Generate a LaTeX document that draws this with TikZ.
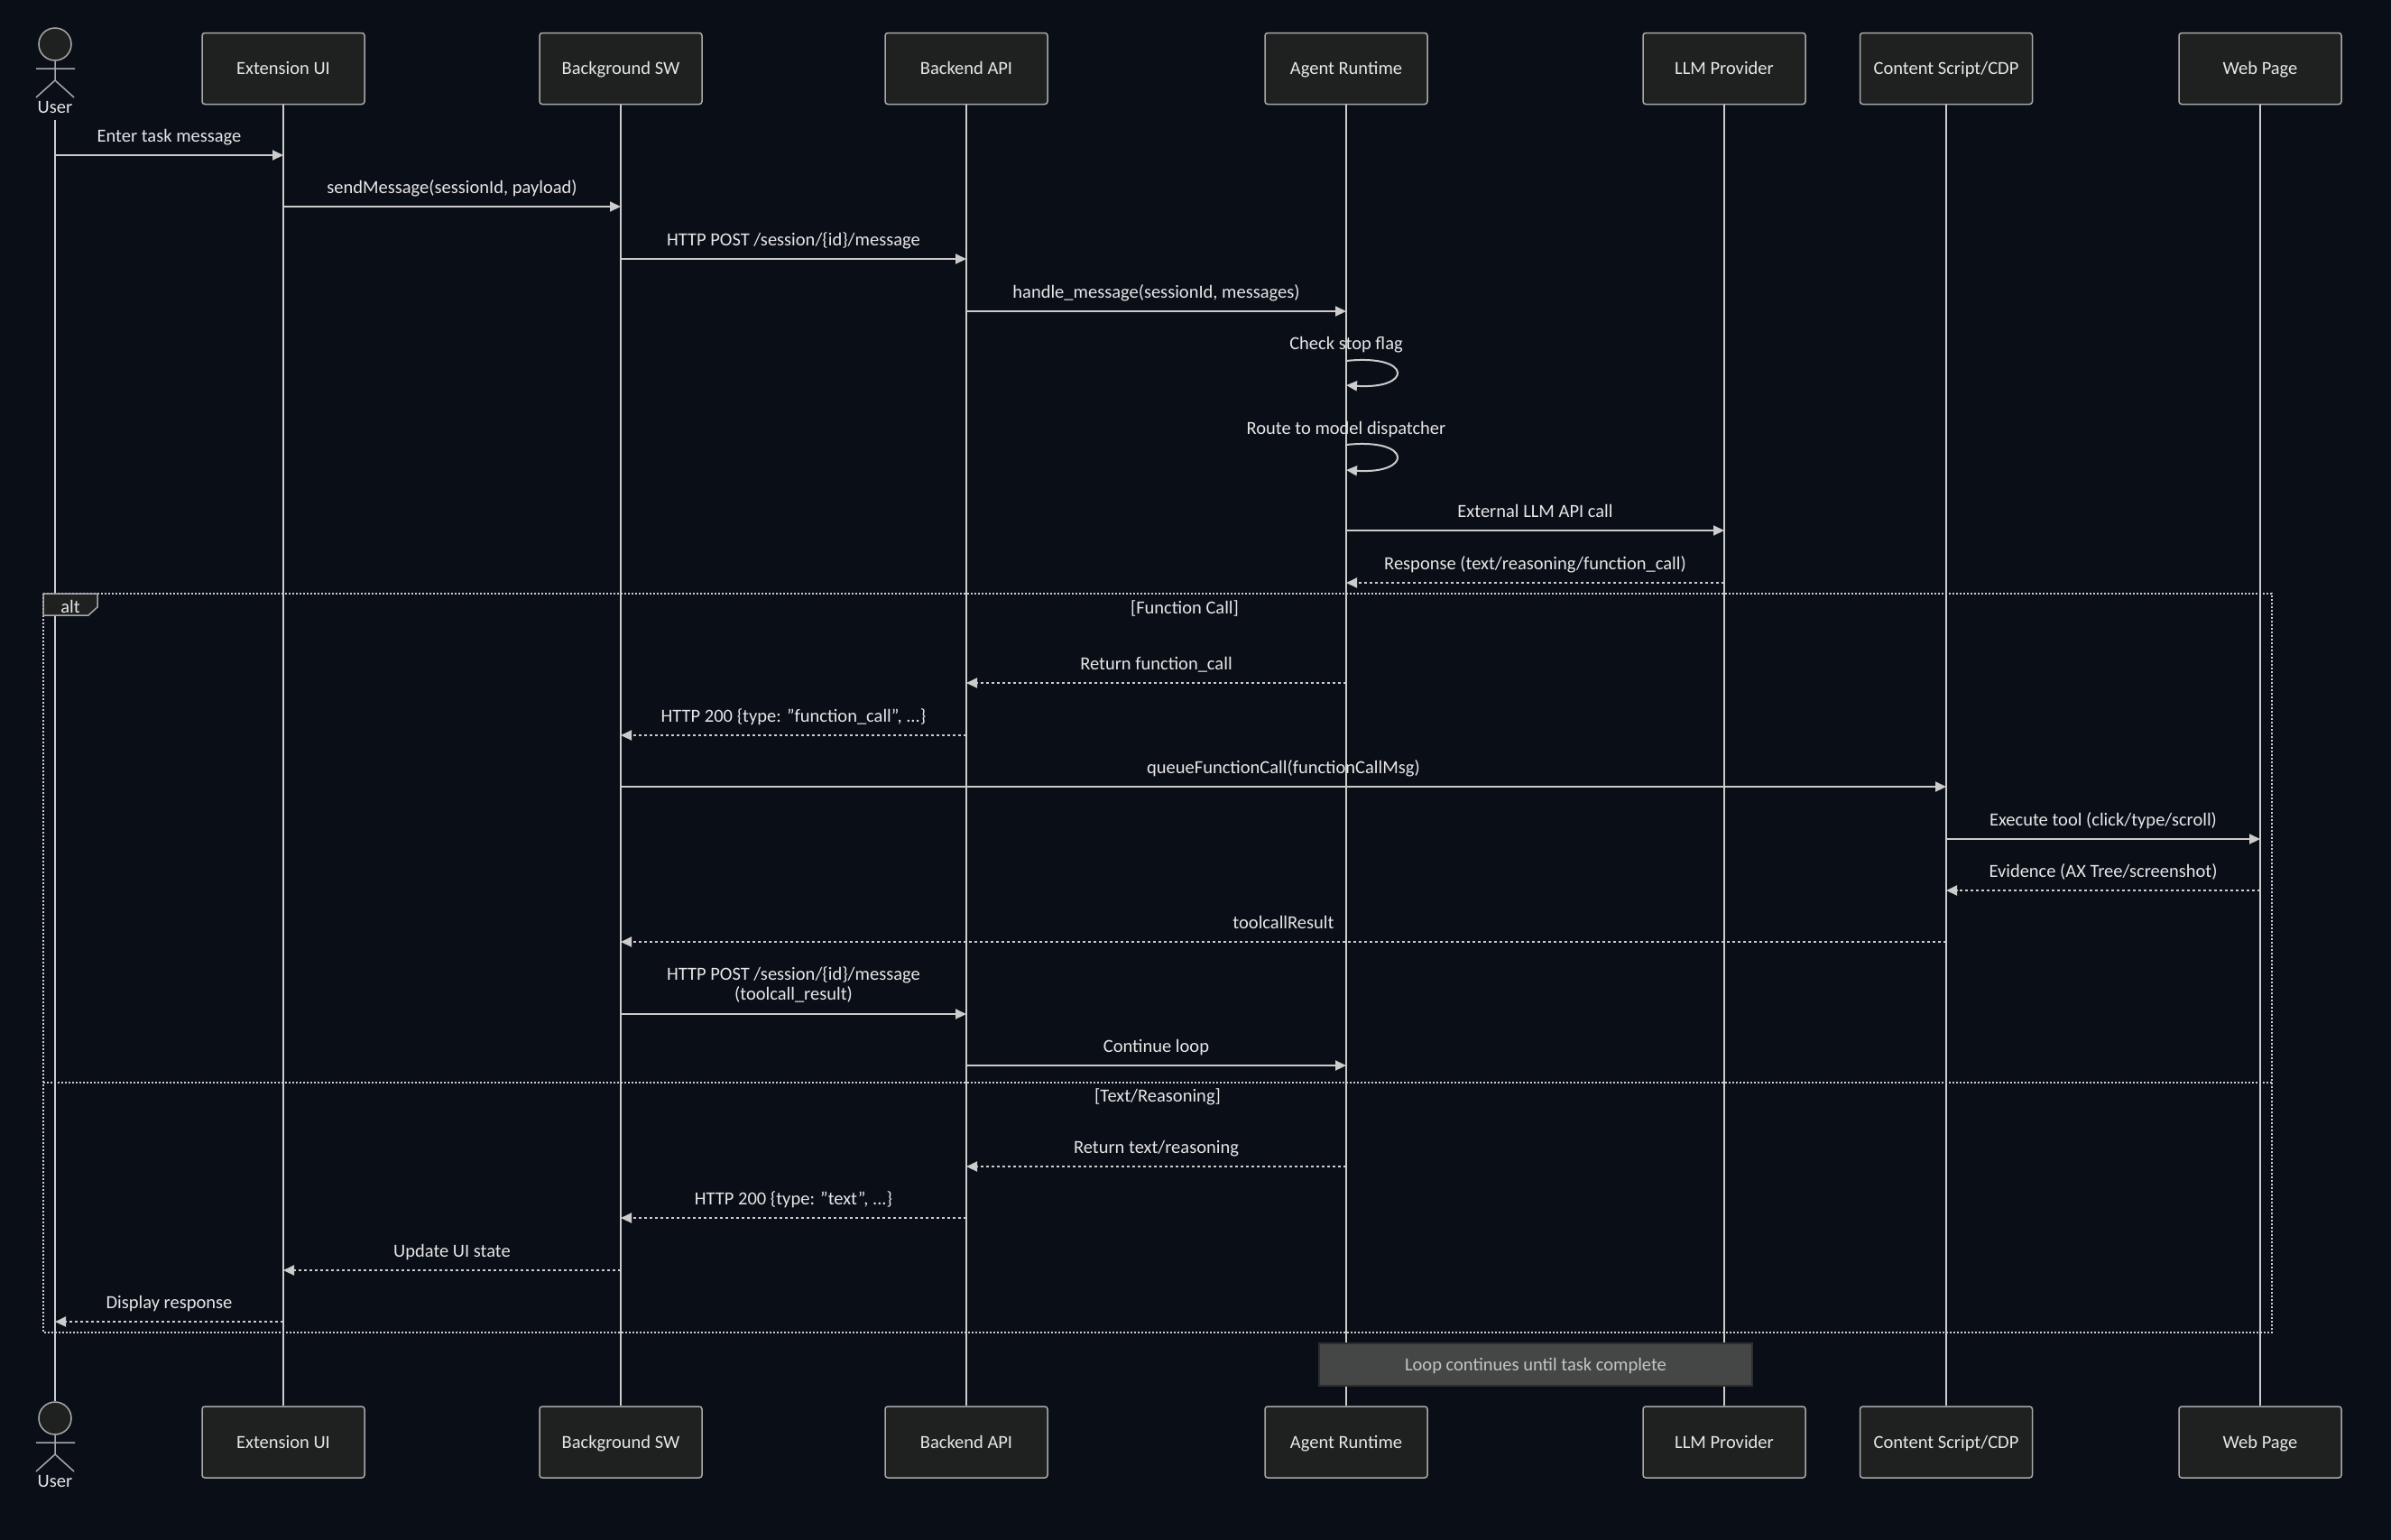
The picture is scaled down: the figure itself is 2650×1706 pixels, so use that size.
\documentclass[tikz,border=0pt]{standalone}
\usepackage{fontspec}
\setmainfont{Carlito}
\usetikzlibrary{arrows.meta}
\definecolor{bgc}{HTML}{0A0E17}
\definecolor{boxfill}{HTML}{1F2020}
\definecolor{boxline}{HTML}{A8A8A8}
\definecolor{linec}{HTML}{CCCCCC}
\definecolor{txt}{HTML}{E6E6E6}
\definecolor{notefill}{HTML}{454646}
\definecolor{noteline}{HTML}{2E2E2E}
\definecolor{notetxt}{HTML}{C4C4C4}
\begin{document}
\begin{tikzpicture}[x=1pt,y=-1pt,
  font=\fontsize{20.5}{24}\selectfont,
  pbox/.style={draw=boxline, fill=boxfill, line width=1.5pt, rounded corners=3pt,
    minimum width=180pt, minimum height=79pt, text=txt, inner sep=0pt,
    text height=13.5pt, text depth=0pt},
  life/.style={draw=linec, line width=1.6pt},
  msg/.style={draw=linec, line width=2pt, -{Triangle[length=12pt,width=11pt]}},
  reply/.style={msg, dash pattern=on 3pt off 3pt},
  lbl/.style={text=txt, anchor=base, inner sep=0pt},
  frameline/.style={draw=linec, line width=1.5pt, dash pattern=on 2pt off 2pt},
  actorline/.style={draw=boxline, line width=1.5pt},
  head/.style={circle, draw=boxline, fill=boxfill, line width=1.5pt, minimum size=36pt, inner sep=0pt},
  notebox/.style={draw=noteline, fill=notefill, line width=1.5pt, minimum width=480pt,
    minimum height=47pt, text=notetxt, inner sep=0pt, text height=14pt, text depth=0pt},
]
\useasboundingbox (0,0) rectangle (2650,1706);
\fill[bgc] (-6,-6) rectangle (2656,1712);

% participant boxes (top and bottom)
\node[pbox] (extT) at (314,76) {Extension UI};
\node[pbox] (bgT) at (688,76) {Background SW};
\node[pbox] (apiT) at (1071,76) {Backend API};
\node[pbox] (agT) at (1492,76) {Agent Runtime};
\node[pbox] (llmT) at (1911,76) {LLM Provider};
\node[pbox, minimum width=191pt] (csT) at (2157,76) {Content Script/CDP};
\node[pbox] (webT) at (2505,76) {Web Page};

\node[pbox] (extB) at (314,1598.5) {Extension UI};
\node[pbox] (bgB) at (688,1598.5) {Background SW};
\node[pbox] (apiB) at (1071,1598.5) {Backend API};
\node[pbox] (agB) at (1492,1598.5) {Agent Runtime};
\node[pbox] (llmB) at (1911,1598.5) {LLM Provider};
\node[pbox, minimum width=191pt] (csB) at (2157,1598.5) {Content Script/CDP};
\node[pbox] (webB) at (2505,1598.5) {Web Page};

% actors
\node[head] (userHeadT) at (61,49) {};
\draw[actorline] (userHeadT.south) -- (61,89) (40,76) -- (83,76) (40,108) -- (61,89) -- (82,108);
\node[lbl] (userLblT) at (61,125) {User};
\node[head] (userHeadB) at (61,1572) {};
\draw[actorline] (userHeadB.south) -- (61,1612) (40,1599) -- (83,1599) (40,1631) -- (61,1612) -- (82,1631);
\node[lbl] (userLblB) at (61,1648) {User};
\coordinate (userTop) at (61,133);

% lifelines
\draw[life] (userTop) -- (userHeadB.north);
\draw[life] (extT.south) -- (extB.north);
\draw[life] (bgT.south) -- (bgB.north);
\draw[life] (apiT.south) -- (apiB.north);
\draw[life] (agT.south) -- (agB.north);
\draw[life] (llmT.south) -- (llmB.north);
\draw[life] (csT.south) -- (csB.north);
\draw[life] (webT.south) -- (webB.north);

% alt frame
\coordinate (frTL) at (48,658);
\coordinate (frBR) at (2518,1477);
\draw[frameline] (frTL) rectangle (frBR);
\draw[frameline] (frTL |- 0,1200) -- (frBR |- 0,1200);
\draw[draw=boxline, fill=boxfill, line width=1.5pt] (48,658) -- (108,658) -- (108,673) -- (98,682) -- (48,682) -- cycle;
\node[lbl] (altLbl) at (78,679) {alt};
\node[lbl] (sec1) at (1313,680) {[Function Call]};
\node[lbl] (sec2) at (1283,1221) {[Text/Reasoning]};

% messages
\draw[msg] (userTop |- 0,172) -- (extT |- 0,172);
\node[lbl] (l1) at (187.5,157) {Enter task message};
\draw[msg] (extT |- 0,229) -- (bgT |- 0,229);
\node[lbl] (l2) at (501,214) {sendMessage(sessionId, payload)};
\draw[msg] (bgT |- 0,287) -- (apiT |- 0,287);
\node[lbl] (l3) at (879.5,272) {HTTP POST /session/\{id\}/message};
\draw[msg] (apiT |- 0,345) -- (agT |- 0,345);
\node[lbl] (l4) at (1281.5,330) {handle\_message(sessionId, messages)};

\draw[msg] (agT |- 0,400) .. controls (1566,392) and (1566,432) .. (agT |- 0,427);
\node[lbl] (l5) at (1492,387) {Check stop flag};
\draw[msg] (agT |- 0,493) .. controls (1566,485) and (1566,526) .. (agT |- 0,521);
\node[lbl] (l6) at (1492,481) {Route to model dispatcher};

\draw[msg] (agT |- 0,588) -- (llmT |- 0,588);
\node[lbl] (l7) at (1701.5,573) {External LLM API call};
\draw[reply] (llmT |- 0,646) -- (agT |- 0,646);
\node[lbl] (l8) at (1701.5,631) {Response (text/reasoning/function\_call)};

\draw[reply] (agT |- 0,757) -- (apiT |- 0,757);
\node[lbl] (l9) at (1281.5,742) {Return function\_call};
\draw[reply] (apiT |- 0,815) -- (bgT |- 0,815);
\node[lbl] (l10) at (879.5,800) {HTTP 200 \{type: "function\_call", ...\}};
\draw[msg] (bgT |- 0,872) -- (csT |- 0,872);
\node[lbl] (l11) at (1422.5,857) {queueFunctionCall(functionCallMsg)};
\draw[msg] (csT |- 0,930) -- (webT |- 0,930);
\node[lbl] (l12) at (2331,915) {Execute tool (click/type/scroll)};
\draw[reply] (webT |- 0,987) -- (csT |- 0,987);
\node[lbl] (l13) at (2331,972) {Evidence (AX Tree/screenshot)};
\draw[reply] (csT |- 0,1044) -- (bgT |- 0,1044);
\node[lbl] (l14) at (1422.5,1029) {toolcallResult};
\draw[msg] (bgT |- 0,1124) -- (apiT |- 0,1124);
\node[lbl] (l15a) at (879.5,1086) {HTTP POST /session/\{id\}/message};
\node[lbl] (l15b) at (879.5,1108) {(toolcall\_result)};
\draw[msg] (apiT |- 0,1181) -- (agT |- 0,1181);
\node[lbl] (l16) at (1281.5,1166) {Continue loop};

\draw[reply] (agT |- 0,1293) -- (apiT |- 0,1293);
\node[lbl] (l17) at (1281.5,1278) {Return text/reasoning};
\draw[reply] (apiT |- 0,1350) -- (bgT |- 0,1350);
\node[lbl] (l18) at (879.5,1335) {HTTP 200 \{type: "text", ...\}};
\draw[reply] (bgT |- 0,1408) -- (extT |- 0,1408);
\node[lbl] (l19) at (501,1393) {Update UI state};
\draw[reply] (extT |- 0,1465) -- (userTop |- 0,1465);
\node[lbl] (l20) at (187.5,1450) {Display response};

% note
\node[notebox] (note) at (1702,1512.5) {Loop continues until task complete};
\end{tikzpicture}
\end{document}
